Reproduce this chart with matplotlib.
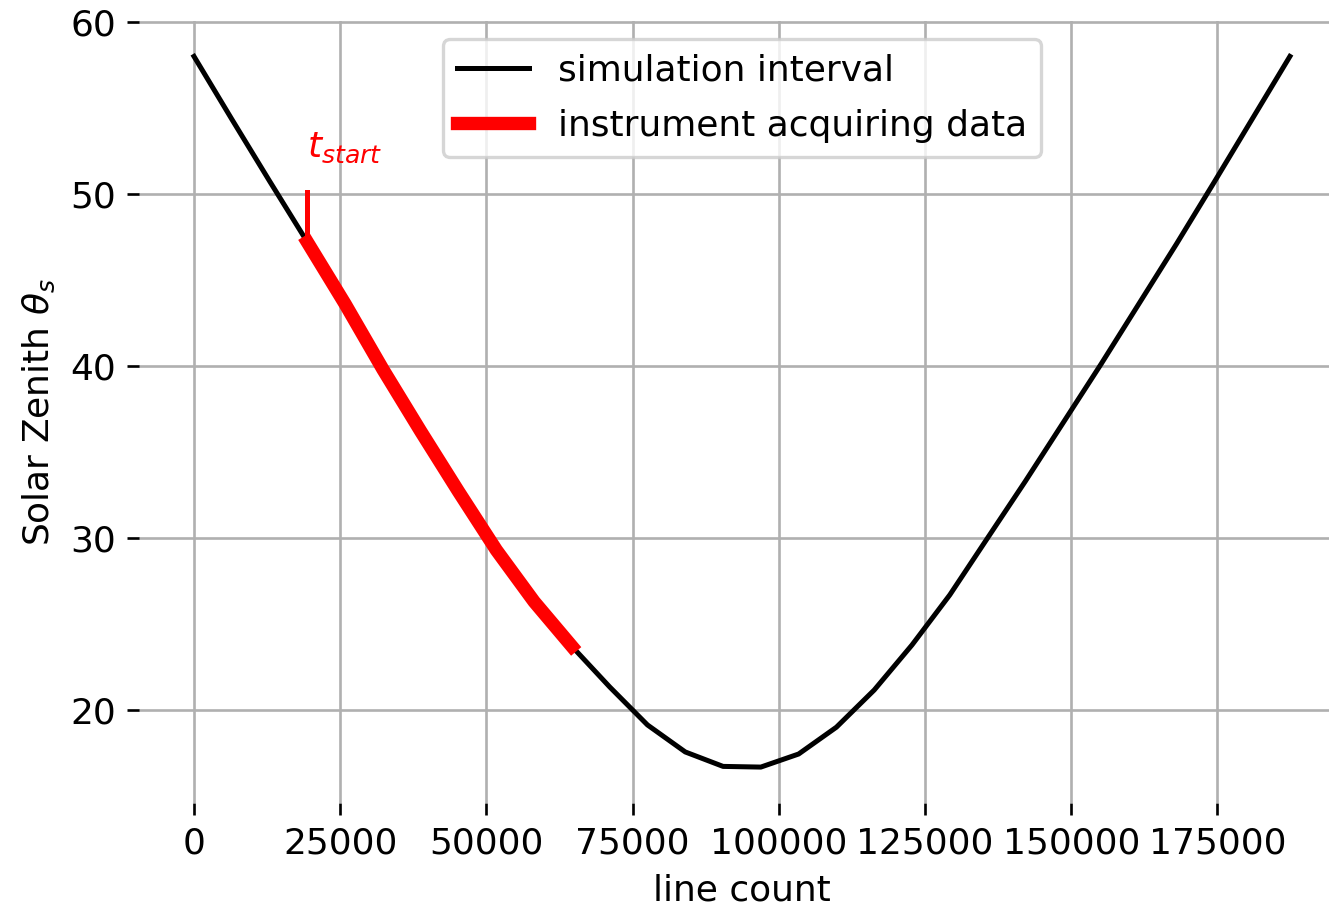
import matplotlib
matplotlib.use("Agg")
import matplotlib.pyplot as plt

line_count = [0, 6462, 12924, 19386, 25848, 32310, 38772, 45234, 51696, 58158,
              64620, 71082, 77544, 84006, 90468, 96930, 103392, 109854, 116316, 122778,
              129240, 135702, 142164, 148626, 155088, 161550, 168012, 174474, 180936, 187398]
solar_zenith = [58.0, 54.35, 50.75, 47.2, 43.6, 39.8, 36.2, 32.7, 29.3, 26.3,
                23.7, 21.34, 19.13, 17.56, 16.72, 16.68, 17.44, 19.0, 21.16, 23.78,
                26.69, 30.0, 33.3, 36.7, 40.1, 43.6, 47.1, 50.7, 54.35, 58.0]
acq_start, acq_end = 3, 10

plt.rcParams['font.size'] = 10.8
DPI = 240
fig = plt.figure(figsize=(1329 / DPI, 910 / DPI), dpi=DPI)
W, H = 1329, 910
ax = fig.add_axes([139.2 / W, (H - 803.2) / H, (1344.7 - 139.2) / W, (803.2 - 20.8) / H])

ax.plot(line_count, solar_zenith, color='black', lw=1.5, label='simulation interval')
ax.plot(line_count[acq_start:acq_end + 1], solar_zenith[acq_start:acq_end + 1],
        color='red', lw=4, label='instrument acquiring data')
xs = line_count[acq_start]
ys = solar_zenith[acq_start]
ax.plot([xs, xs], [ys, ys + 2.9], color='red', lw=1.5)
ax.text(xs, ys + 4.95, '$t_{start}$', color='red', ha='left', va='baseline')

ax.set_xlim(-9370, 196770)
ax.set_ylim(14.58, 60.07)
ax.set_xticks([0, 25000, 50000, 75000, 100000, 125000, 150000, 175000])
ax.set_yticks([20, 30, 40, 50, 60])
ax.grid(True, color='#b0b0b0', lw=0.8)
for s in ax.spines.values():
    s.set_visible(False)
ax.set_xlabel('line count', labelpad=4)
ax.set_ylabel(r'Solar Zenith $\theta_s$')
ax.legend(loc='upper center', labelspacing=0.6)

fig.savefig('out.png', dpi=DPI)
